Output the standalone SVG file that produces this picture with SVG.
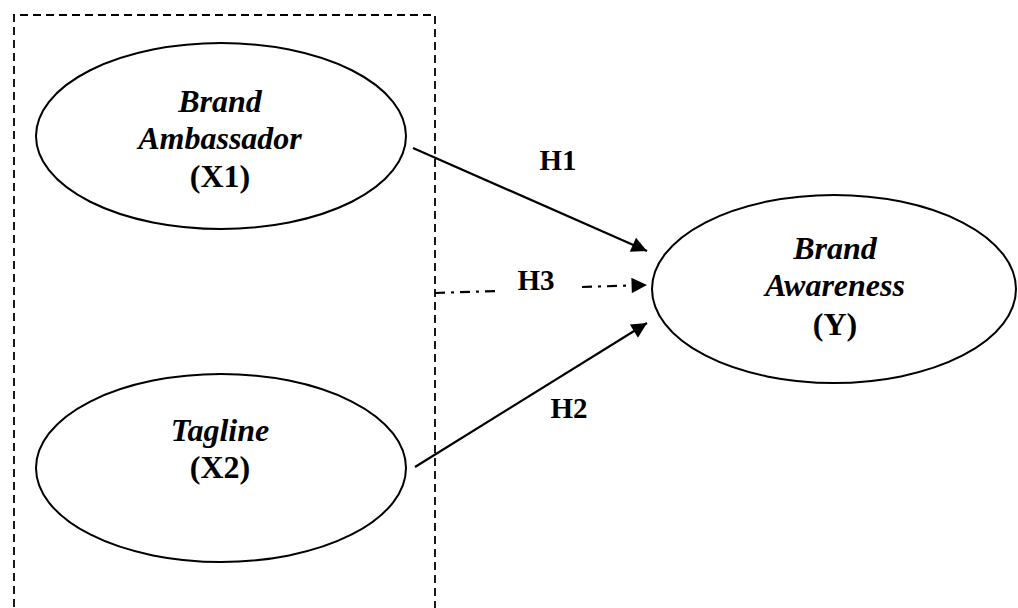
<svg xmlns="http://www.w3.org/2000/svg" width="1018" height="608" viewBox="0 0 1018 608">
<defs>
<marker id="ah" viewBox="0 0 10 10" refX="10" refY="5" markerWidth="8.5" markerHeight="7" markerUnits="strokeWidth" orient="auto">
<path d="M0,0 L10,5 L0,10 Z" fill="#000"/>
</marker>
<style>
.node{fill:#fff;stroke:#000;stroke-width:2}
.t{font-family:"Liberation Serif","Times New Roman",serif;font-weight:bold;font-size:32px;text-anchor:middle;fill:#000}
.i{font-style:italic}
.h{font-size:29px}
.c{stroke:#000;stroke-width:2.2;fill:none}
.box{fill:none;stroke:#000;stroke-width:1.8;stroke-dasharray:8 5}
</style>
</defs>
<rect width="1018" height="608" fill="#fff"/>
<path id="group-box" class="box" d="M14,620 L14,15 L435,15 L435,620"/>
<g id="x1">
<ellipse class="node" cx="221" cy="136" rx="185" ry="93"/>
<text class="t i" x="220" y="112">Brand</text>
<text class="t i" x="220" y="149">Ambassador</text>
<text class="t" x="220" y="187">(X1)</text>
</g>
<g id="x2">
<ellipse class="node" cx="221" cy="468" rx="185" ry="94"/>
<text class="t i" x="220" y="441">Tagline</text>
<text class="t" x="220" y="478">(X2)</text>
</g>
<g id="y">
<ellipse class="node" cx="834" cy="289" rx="182" ry="94"/>
<text class="t i" x="835" y="259">Brand</text>
<text class="t i" x="835" y="296">Awareness</text>
<text class="t" x="835" y="335">(Y)</text>
</g>
<g id="connectors">
<line class="c" x1="413" y1="148" x2="647" y2="251" marker-end="url(#ah)"/>
<line class="c" x1="415" y1="467" x2="647" y2="323" marker-end="url(#ah)"/>
<line class="c" x1="435" y1="293" x2="498" y2="291" stroke-dasharray="10 6 3 6"/>
<line class="c" x1="582" y1="287" x2="647" y2="285" stroke-dasharray="10 6 3 6" marker-end="url(#ah)"/>
<text class="t h" x="558" y="170">H1</text>
<text class="t h" x="536" y="290">H3</text>
<text class="t h" x="569" y="418">H2</text>
</g>
</svg>
